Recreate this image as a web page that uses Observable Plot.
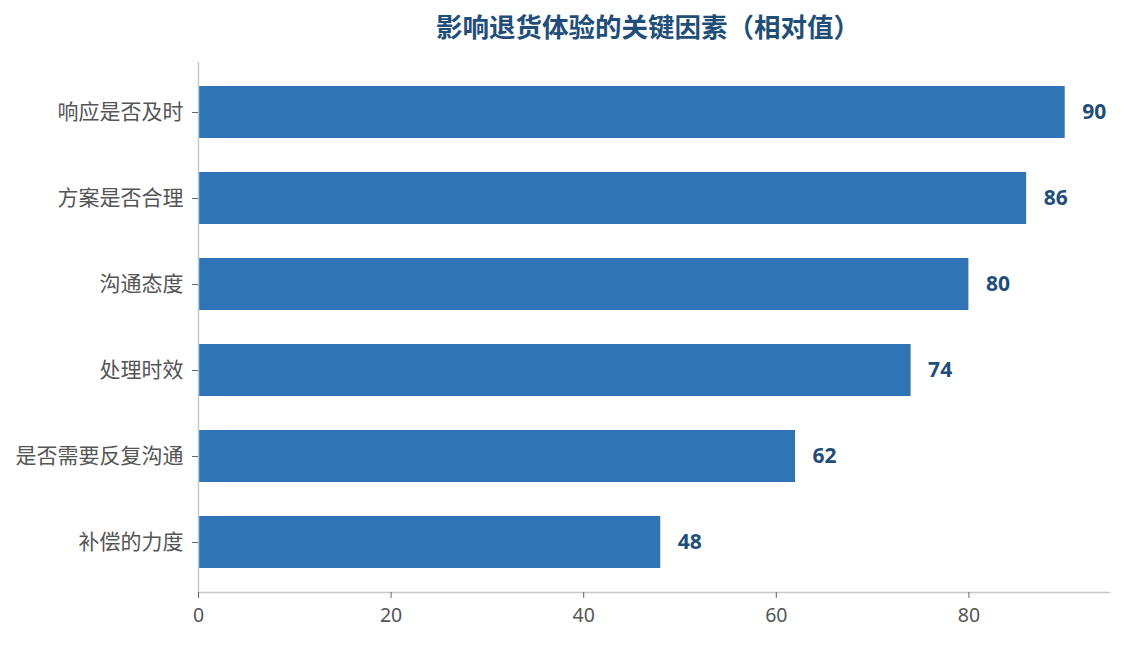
<!DOCTYPE html>
<html><head><meta charset="utf-8">
<script src="https://cdn.jsdelivr.net/npm/d3@7"></script>
<script src="https://cdn.jsdelivr.net/npm/@observablehq/plot@0.6"></script>
<style>body{margin:0;background:#fff;font-family:"Noto Sans","Noto Sans CJK SC",sans-serif;}</style>
</head><body><div id="chart"></div>
<script>
const categories = ["响应是否及时","方案是否合理","沟通态度","处理时效","是否需要反复沟通","补偿的力度"];
const values = [90, 86, 80, 74, 62, 48];
const xTicks = [0, 20, 40, 60, 80];
const title = "影响退货体验的关键因素（相对值）";

const data = categories.map((c, i) => ({factor: c, value: values[i]}));

const chart = Plot.plot({
  width: 1124, height: 645,
  marginLeft: 198, marginRight: 15, marginTop: 62, marginBottom: 53,
  style: {fontFamily: '"Noto Sans","Noto Sans CJK SC",sans-serif', background: "#fff"},
  x: {domain: [0, 94.6], label: null},
  y: {domain: categories, paddingInner: 0.4, paddingOuter: 0.28, label: null},
  marks: [
    Plot.barX(data, {x: "value", y: "factor", fill: "#2e75b6"}),
    Plot.ruleX([0], {stroke: "#c8c8c8", strokeWidth: 1.5}),
    Plot.frame({anchor: "bottom", stroke: "#c8c8c8", strokeWidth: 1.5}),
    Plot.axisX({ticks: xTicks, tickSize: 6, tickPadding: 10, fontSize: 19.5, color: "#555", stroke: "#666", label: null}),
    Plot.axisY({tickSize: 6, tickPadding: 9, fontSize: 21, color: "#555", stroke: "#666", label: null}),
    Plot.text(data, {x: "value", y: "factor", text: d => String(d.value), dx: 17, textAnchor: "start", fontSize: 21, fontWeight: "bold", fill: "#1f4e79"}),
    Plot.text([title], {frameAnchor: "top", dy: -26, dx: -6, fontSize: 26.5, fontWeight: "bold", fill: "#1f4e79", lineAnchor: "bottom"})
  ]
});
document.getElementById("chart").appendChild(chart);
</script></body></html>
